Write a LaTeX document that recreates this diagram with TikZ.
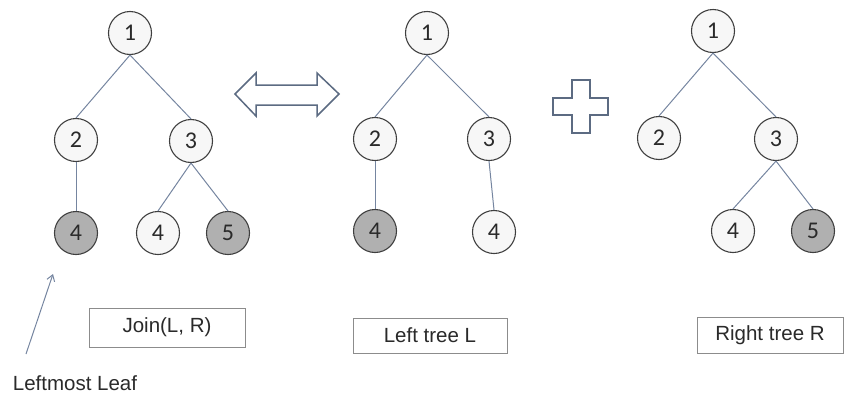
\documentclass[tikz,border=0pt]{standalone}
\usepackage{fontspec}
\setmainfont{Liberation Sans}
\newfontfamily\digitfont{Carlito}
\usetikzlibrary{arrows.meta}

\definecolor{ringcol}{HTML}{3F3F3F}
\definecolor{edgecol}{HTML}{7585A0}
\definecolor{leafgray}{HTML}{B0B0B0}
\definecolor{shapecol}{HTML}{5C6B82}
\definecolor{boxcol}{HTML}{8C8C8C}
\definecolor{inkcol}{HTML}{2A2A2A}

\tikzset{
  tnode/.style={circle, draw=ringcol, line width=1.1pt, fill=white!97!black,
    minimum size=43pt, inner sep=0pt, text=inkcol,
    font=\digitfont\fontsize{24}{24}\selectfont},
  shaded/.style={tnode, fill=leafgray},
  tedge/.style={draw=edgecol, line width=1pt},
  labelbox/.style={draw=boxcol, line width=1pt, fill=white, inner sep=0pt,
    text=inkcol, font=\fontsize{20.5}{20.5}\selectfont},
  symbolshape/.style={draw=shapecol, line width=1.5pt, fill=white, line join=miter},
  caption/.style={text=inkcol, font=\fontsize{20.5}{20.5}\selectfont}
}

\begin{document}
\begin{tikzpicture}[x=1pt, y=-1pt]
  \useasboundingbox (0,0) rectangle (846,394);

  % Join(L, R)
  \node[tnode]  (a1) at (130,33)  {1};
  \node[tnode]  (a2) at (76,140)  {2};
  \node[tnode]  (a3) at (191,141) {3};
  \node[shaded] (a4) at (76,233)  {4};
  \node[tnode]  (a5) at (158,233) {4};
  \node[shaded] (a6) at (228,233) {5};
  \draw[tedge] (a1.south) -- (a2.north);
  \draw[tedge] (a1.south) -- (a3.north);
  \draw[tedge] (a2.south) -- (a4.north);
  \draw[tedge] (a3.south) -- (a5.north);
  \draw[tedge] (a3.south) -- (a6.north);

  % Left tree L
  \node[tnode]  (b1) at (427,33)  {1};
  \node[tnode]  (b2) at (375,139) {2};
  \node[tnode]  (b3) at (489,139) {3};
  \node[shaded] (b4) at (375,231) {4};
  \node[tnode]  (b5) at (494,232) {4};
  \draw[tedge] (b1.south) -- (b2.north);
  \draw[tedge] (b1.south) -- (b3.north);
  \draw[tedge] (b2.south) -- (b4.north);
  \draw[tedge] (b3.south) -- (b5.north);

  % Right tree R
  \node[tnode]  (c1) at (713,31)  {1};
  \node[tnode]  (c2) at (659,138) {2};
  \node[tnode]  (c3) at (776,139) {3};
  \node[tnode]  (c4) at (733,231) {4};
  \node[shaded] (c5) at (813,231) {5};
  \draw[tedge] (c1.south) -- (c2.north);
  \draw[tedge] (c1.south) -- (c3.north);
  \draw[tedge] (c3.south) -- (c4.north);
  \draw[tedge] (c3.south) -- (c5.north);

  % double-headed equivalence arrow
  \draw[symbolshape] (235,94) -- (256,73) -- (256,85) -- (317,85) -- (317,73)
    -- (339,94) -- (317,116) -- (317,105) -- (256,105) -- (256,116) -- cycle;

  % plus sign
  \draw[symbolshape] (572,80) -- (590,80) -- (590,98) -- (608,98) -- (608,115)
    -- (590,115) -- (590,133) -- (572,133) -- (572,115) -- (553,115)
    -- (553,98) -- (572,98) -- cycle;

  % captions
  \node[labelbox, minimum width=156pt, minimum height=39pt] (join) at (167,327.5) {Join(L, R)};
  \node[labelbox, minimum width=154pt, minimum height=35pt] (ltree) at (430,335.5) {Left tree L};
  \node[labelbox, minimum width=146pt, minimum height=36pt] (rtree) at (770,335) {Right tree R};

  % pointer to the leftmost leaf
  \node[caption] (leaf) at (75,383) {Leftmost Leaf};
  \coordinate (tail) at (26,354);
  \coordinate (tip) at (53,274);
  \draw[draw=edgecol, line width=1pt, -{Straight Barb[length=6pt, width=8pt]}] (tail) -- (tip);
\end{tikzpicture}
\end{document}
